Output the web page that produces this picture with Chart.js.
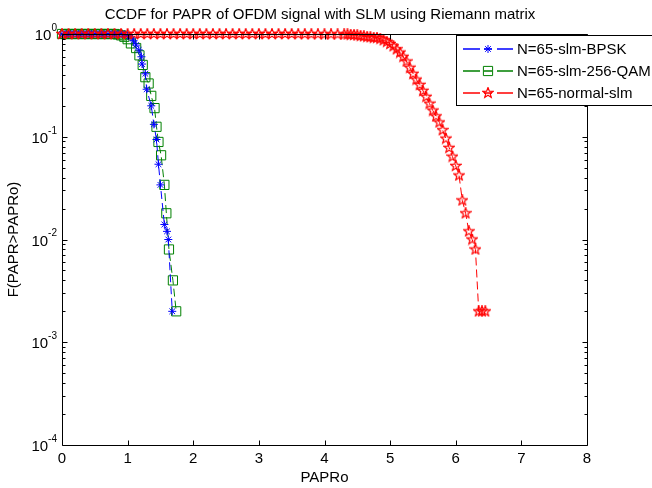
<!DOCTYPE html>
<html>
<head>
<meta charset="utf-8">
<script src="https://cdn.jsdelivr.net/npm/chart.js@4.4.1/dist/chart.umd.min.js"></script>
<style>
  html, body { margin: 0; padding: 0; background: #fff; }
  #wrap { width: 652px; height: 488px; }
</style>
</head>
<body>
<div id="wrap"><canvas id="chart" width="652" height="488"></canvas></div>
<script>
const chartTitle = 'CCDF for PAPR of OFDM signal with SLM using Riemann matrix';
const xTitle = 'PAPRo';
const yTitle = 'F(PAPR>PAPRo)';
const seriesLabels = ['N=65-slm-BPSK', 'N=65-slm-256-QAM', 'N=65-normal-slm'];
const seriesColors = ['#0000ff', '#008000', '#ff0000'];
const xTicks = [0, 1, 2, 3, 4, 5, 6, 7, 8];
const yTickExps = [0, -1, -2, -3, -4];

const paprBpsk = [0, 0.05, 0.1, 0.15, 0.2, 0.25, 0.3, 0.35, 0.4, 0.45, 0.5, 0.55, 0.6, 0.65, 0.7, 0.75, 0.8, 0.85, 0.9,
  0.95, 1.0, 1.05, 1.09, 1.13, 1.17, 1.21, 1.22, 1.27, 1.29, 1.36, 1.40, 1.44, 1.47, 1.50, 1.56, 1.60, 1.62, 1.68];
const ccdfBpsk = [1, 1, 1, 1, 1, 1, 1, 1, 1, 1, 1, 1, 1, 1, 1, 1, 1, 1, 1,
  0.99, 0.97, 0.93, 0.86, 0.78, 0.70, 0.60, 0.51, 0.41, 0.29, 0.20, 0.132, 0.094, 0.054, 0.034, 0.014, 0.012, 0.010, 0.002];

const paprQam = [0, 0.05, 0.1, 0.15, 0.2, 0.25, 0.3, 0.35, 0.4, 0.45, 0.5, 0.55, 0.6, 0.65, 0.7, 0.75, 0.8,
  0.85, 0.9, 0.95, 1.0, 1.05, 1.13, 1.18, 1.23, 1.27, 1.32, 1.36, 1.41, 1.44, 1.47, 1.51, 1.56, 1.59, 1.63, 1.69, 1.74];
const ccdfQam = [1, 1, 1, 1, 1, 1, 1, 1, 1, 1, 1, 1, 1, 1, 1, 1, 1,
  0.99, 0.97, 0.94, 0.89, 0.81, 0.73, 0.62, 0.50, 0.38, 0.33, 0.25, 0.19, 0.125, 0.089, 0.066, 0.034, 0.018, 0.008, 0.004, 0.002];

const paprNormal = [0, 0.1, 0.2, 0.3, 0.4, 0.5, 0.6, 0.7, 0.8, 0.9, 1.0, 1.1, 1.2, 1.3, 1.4, 1.5, 1.6, 1.7, 1.8, 1.9,
  2.0, 2.1, 2.2, 2.3, 2.4, 2.5, 2.6, 2.7, 2.8, 2.9, 3.0, 3.1, 3.2, 3.3, 3.4, 3.5, 3.6, 3.7, 3.8, 3.9, 4.0, 4.1, 4.2, 4.3,
  4.35, 4.4, 4.45, 4.5, 4.55, 4.6, 4.65, 4.7, 4.75, 4.8, 4.85, 4.9, 4.95, 5.0, 5.05, 5.1, 5.15, 5.2, 5.25, 5.3, 5.35,
  5.4, 5.45, 5.5, 5.55, 5.6, 5.65, 5.7, 5.75, 5.8, 5.85, 5.9, 5.95, 6.0, 6.05, 6.1, 6.15, 6.2, 6.25, 6.3, 6.35, 6.4, 6.45];
const ccdfNormal = [1, 1, 1, 1, 1, 1, 1, 1, 1, 1, 1, 1, 1, 1, 1, 1, 1, 1, 1, 1,
  1, 1, 1, 1, 1, 1, 1, 1, 1, 1, 1, 1, 1, 1, 1, 1, 0.998, 0.998, 0.996, 0.996, 0.994, 0.994, 0.992, 0.99,
  0.99, 0.985, 0.98, 0.97, 0.96, 0.95, 0.94, 0.93, 0.92, 0.92, 0.90, 0.87, 0.84, 0.80, 0.76, 0.71, 0.66, 0.60, 0.54, 0.47, 0.41,
  0.36, 0.32, 0.28, 0.245, 0.21, 0.18, 0.158, 0.138, 0.116, 0.096, 0.078, 0.064, 0.052, 0.042, 0.024, 0.018, 0.012, 0.010, 0.008, 0.002, 0.002, 0.002];

const FONT = "'Liberation Sans', Arial, Helvetica, sans-serif";

function makePentagram(color, size) {
  const c = document.createElement('canvas');
  c.width = size; c.height = size;
  const g = c.getContext('2d');
  const cx = size / 2, cy = size / 2, R = size / 2 - 0.5, r = R * 0.42;
  g.beginPath();
  for (let i = 0; i < 10; i++) {
    const ang = -Math.PI / 2 + i * Math.PI / 5;
    const rr = i % 2 ? r : R;
    g.lineTo(cx + rr * Math.cos(ang), cy + rr * Math.sin(ang));
  }
  g.closePath();
  g.strokeStyle = color;
  g.lineWidth = 1.2;
  g.stroke();
  return c;
}
const pentagram = makePentagram(seriesColors[2], 12);

function toPoints(xs, ys) {
  return xs.map((x, i) => ({ x, y: ys[i] }));
}

const markerStyles = [
  { pointStyle: 'star', pointRadius: 4 },
  { pointStyle: 'rect', pointRadius: 6.5 },
  { pointStyle: pentagram, pointRadius: 6 }
];

const datasets = [
  [paprBpsk, ccdfBpsk, 1],
  [paprQam, ccdfQam, 2],
  [paprNormal, ccdfNormal, 0]
].map(([xs, ys, order], i) => ({
  label: seriesLabels[i],
  data: toPoints(xs, ys),
  showLine: true,
  borderColor: seriesColors[i],
  borderWidth: 1,
  borderDash: [8, 4],
  pointStyle: markerStyles[i].pointStyle,
  pointRadius: markerStyles[i].pointRadius,
  pointBorderColor: seriesColors[i],
  pointBackgroundColor: 'rgba(0,0,0,0)',
  pointBorderWidth: 1,
  tension: 0,
  clip: 10,
  order
}));

// axes box, inward ticks, y labels with exponents, title and the legend
const matlabFrame = {
  id: 'matlabFrame',
  afterDatasetsDraw(chart) {
    const { ctx, chartArea: a, scales: { x, y } } = chart;
    const L = Math.round(a.left) + 0.5, R = Math.round(a.right) + 0.5;
    const T = Math.round(a.top) + 0.5, B = Math.round(a.bottom) + 0.5;
    ctx.save();
    ctx.setLineDash([]);
    ctx.strokeStyle = '#000';
    ctx.lineWidth = 1;
    ctx.beginPath();
    ctx.rect(L, T, R - L, B - T);
    xTicks.slice(1, -1).forEach(v => {
      const px = Math.round(x.getPixelForValue(v)) + 0.5;
      ctx.moveTo(px, B); ctx.lineTo(px, B - 5);
      ctx.moveTo(px, T); ctx.lineTo(px, T + 5);
    });
    yTickExps.forEach(e => {
      const py = Math.round(y.getPixelForValue(Math.pow(10, e))) + 0.5;
      ctx.moveTo(L, py); ctx.lineTo(L + 5, py);
      ctx.moveTo(R, py); ctx.lineTo(R - 5, py);
      if (e > -4) {
        for (let m = 2; m <= 9; m++) {
          const pm = Math.round(y.getPixelForValue(m * Math.pow(10, e - 1))) + 0.5;
          ctx.moveTo(L, pm); ctx.lineTo(L + 3, pm);
          ctx.moveTo(R, pm); ctx.lineTo(R - 3, pm);
        }
      }
    });
    ctx.stroke();

    // y tick labels 10^e
    ctx.fillStyle = '#000';
    ctx.textAlign = 'right';
    ctx.textBaseline = 'middle';
    yTickExps.forEach(e => {
      const py = y.getPixelForValue(Math.pow(10, e));
      ctx.font = '10px ' + FONT;
      const exp = String(e);
      const ew = ctx.measureText(exp).width;
      ctx.fillText(exp, 57, py - 6);
      ctx.font = '15px ' + FONT;
      ctx.fillText('10', 57 - ew, py + 2);
    });

    // title
    ctx.font = '15px ' + FONT;
    ctx.textAlign = 'center';
    ctx.fillText(chartTitle, 320, 15);
    ctx.restore();
  },
  afterDraw(chart) {
    const { ctx } = chart;
    const lx = 456, ly = 35, lw = 200, lh = 70;
    ctx.save();
    ctx.setLineDash([]);
    ctx.fillStyle = '#fff';
    ctx.fillRect(lx, ly, lw, lh);
    ctx.strokeStyle = '#000';
    ctx.lineWidth = 1;
    ctx.strokeRect(lx + 0.5, ly + 0.5, lw, lh);
    chart.data.datasets.forEach((ds, i) => {
      const ry = ly + 14 + i * 22;
      const color = seriesColors[i];
      ctx.strokeStyle = color;
      ctx.lineWidth = 1.4;
      ctx.beginPath();
      ctx.moveTo(463, ry); ctx.lineTo(480, ry);
      ctx.moveTo(484, ry); ctx.lineTo(492, ry);
      ctx.moveTo(497, ry); ctx.lineTo(513, ry);
      ctx.stroke();
      ctx.lineWidth = 1;
      if (ds.pointStyle instanceof HTMLCanvasElement) {
        ctx.drawImage(ds.pointStyle, 488 - ds.pointStyle.width / 2, ry - ds.pointStyle.height / 2);
      } else {
        ctx.strokeStyle = color;
        ctx.fillStyle = 'rgba(0,0,0,0)';
        Chart.helpers.drawPoint(ctx, {
          pointStyle: ds.pointStyle, radius: ds.pointRadius, borderWidth: 1, rotation: 0
        }, 488, ry);
      }
      ctx.fillStyle = '#000';
      ctx.font = '15px ' + FONT;
      ctx.textAlign = 'left';
      ctx.textBaseline = 'middle';
      ctx.fillText(ds.label, 517, ry + 1);
    });
    ctx.restore();
  }
};

new Chart(document.getElementById('chart'), {
  type: 'scatter',
  data: { datasets },
  options: {
    responsive: false,
    animation: false,
    events: [],
    layout: { padding: { top: 34, right: 65, left: 0, bottom: 0 } },
    plugins: {
      legend: { display: false },
      title: { display: false },
      tooltip: { enabled: false }
    },
    scales: {
      x: {
        type: 'linear',
        min: 0,
        max: 8,
        afterBuildTicks: s => { s.ticks = xTicks.map(v => ({ value: v })); },
        afterFit: s => { s.height = 43; },
        grid: { display: false, drawTicks: false },
        border: { display: false },
        ticks: { color: '#000', font: { family: FONT, size: 15 }, padding: 5, maxRotation: 0, autoSkip: false },
        title: { display: true, text: xTitle, color: '#000', font: { family: FONT, size: 15 }, padding: { top: 0, bottom: 1 } }
      },
      y: {
        type: 'logarithmic',
        min: 1e-4,
        max: 1,
        afterFit: s => { s.width = 62; },
        grid: { display: false, drawTicks: false },
        border: { display: false },
        ticks: { display: false },
        title: { display: true, text: yTitle, color: '#000', font: { family: FONT, size: 15 }, padding: { top: 5, bottom: 0 } }
      }
    }
  },
  plugins: [matlabFrame]
});
</script>
</body>
</html>
